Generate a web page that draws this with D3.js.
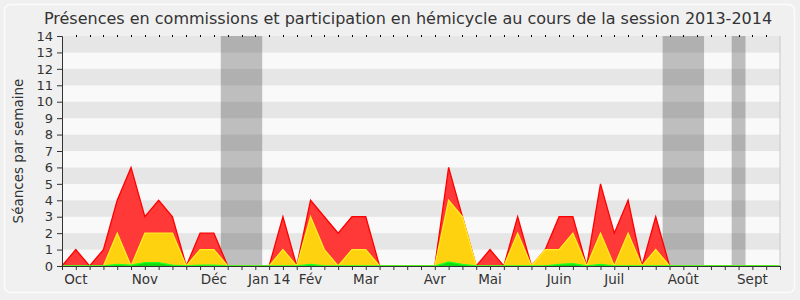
<!DOCTYPE html>
<html>
<head>
<meta charset="utf-8">
<script src="https://cdn.jsdelivr.net/npm/d3@7"></script>
<style>
  body { margin: 0; background: #f0f0f0; }
  text { font-family: "DejaVu Sans", sans-serif; fill: #333; }
</style>
</head>
<body>
<div id="chart"></div>
<script>
// weekly values, week 0 = start of October 2013
var total    = [0,1,0,1,4,6,3,4,3,0,2,2,0,0,0,0,3,0,4,3,2,3,3,0,0,0,0,0,6,3,0,1,0,3,0,1,3,3,0,5,2,4,0,3,0,0,0,0,0,0,0,0,0];
var hemicycle= [0,0,0,0,2,0,2,2,2,0,1,1,0,0,0,0,1,0,3,1,0,1,1,0,0,0,0,0,4,3,0,0,0,2,0,1,1,2,0,2,0,2,0,1,0,0,0,0,0,0,0,0,0];
var green    = [0,0,0,0,0.1,0.05,0.2,0.2,0.05,0,0.05,0.05,0,0,0,0,0,0,0.1,0,0,0,0,0,0,0,0,0,0.25,0.1,0,0,0,0,0,0,0.1,0.15,0,0.1,0,0,0,0,0,0,0,0,0,0,0,0,0];
var monthLabels = ['Oct','Nov','Déc','Jan 14','Fév','Mar','Avr','Mai','Juin','Juil','Août','Sept'];
var monthWeeks  = [1,6,11,15,18,22,27,31,36,40,45,50];
var vacStart = [12,44,49];
var vacEnd   = [14,46,49];
var yTicks = d3.range(0,15);

var width = 800, height = 300;
var margin = {top: 36, right: 20, bottom: 34, left: 62};

var svg = d3.select('#chart').append('svg')
  .attr('width', width).attr('height', height);

svg.append('rect')
  .attr('x', 4.5).attr('y', 4.5).attr('width', 790).attr('height', 288)
  .attr('rx', 6).attr('fill', '#f0f0f0').attr('stroke', '#fcfcfc').attr('stroke-width', 1.5);

var x = d3.scaleLinear().domain([0, 52]).range([margin.left, width - margin.right]);
var y = d3.scaleLinear().domain([0, 14]).range([height - margin.bottom, margin.top]);

// stripes
svg.selectAll('rect.stripe')
  .data(d3.range(0,14))
  .enter().append('rect')
  .attr('class','stripe')
  .attr('x', x(0)).attr('width', x(52) - x(0))
  .attr('y', function(d){ return y(d+1); })
  .attr('height', function(d){ return y(d) - y(d+1); })
  .attr('fill', function(d){ return d % 2 ? '#e6e6e6' : '#f9f9f9'; });

// vacation bands
svg.selectAll('rect.vac')
  .data(vacStart)
  .enter().append('rect')
  .attr('class','vac')
  .attr('x', function(d){ return x(d - 0.5); })
  .attr('width', function(d,i){ return x(vacEnd[i] + 0.5) - x(d - 0.5); })
  .attr('y', y(14)).attr('height', y(0) - y(14))
  .attr('fill', 'rgba(0,0,0,0.235)');

function drawArea(vals, fill, stroke) {
  var area = d3.area()
    .x(function(d,i){ return x(i); })
    .y0(y(0))
    .y1(function(d){ return y(d); });
  var line = d3.line()
    .x(function(d,i){ return x(i); })
    .y(function(d){ return y(d); });
  svg.append('path').datum(vals).attr('d', area).attr('fill', fill);
  svg.append('path').datum(vals).attr('d', line).attr('fill', 'none')
    .attr('stroke', stroke).attr('stroke-width', 1.3);
}
drawArea(total, '#ff3838', '#ff0000');
drawArea(hemicycle, '#ffd20f', '#ffee22');
drawArea(green, '#11dd11', '#22ff22');

// right border
svg.append('line')
  .attr('x1', x(52)).attr('x2', x(52)).attr('y1', y(14)).attr('y2', y(0))
  .attr('stroke', '#c8c8c8');

// top dots
svg.selectAll('line.topdot')
  .data(d3.range(1,52))
  .enter().append('line')
  .attr('class','topdot')
  .attr('x1', function(d){ return Math.round(x(d)) + 0.5; })
  .attr('x2', function(d){ return Math.round(x(d)) + 0.5; })
  .attr('y1', y(14) - 1).attr('y2', y(14) + 1)
  .attr('stroke', '#000');

// x axis
var xAxis = svg.append('g')
  .attr('transform', 'translate(0,' + y(0) + ')')
  .call(d3.axisBottom(x).tickValues(d3.range(0,53)).tickSize(4).tickFormat(''));
xAxis.select('.domain').attr('stroke', '#333');
xAxis.selectAll('.tick line').attr('stroke', '#333');

svg.selectAll('text.month')
  .data(monthLabels)
  .enter().append('text')
  .attr('class','month')
  .attr('x', function(d,i){ return x(monthWeeks[i]); })
  .attr('y', y(0) + 18)
  .attr('text-anchor','middle')
  .attr('font-size', 13.5)
  .text(function(d){ return d; });

// y axis
var yAxis = svg.append('g')
  .attr('transform', 'translate(' + x(0) + ',0)')
  .call(d3.axisLeft(y).tickValues(yTicks).tickSize(5).tickPadding(4).tickFormat(d3.format('d')));
yAxis.select('.domain').attr('stroke', '#333');
yAxis.selectAll('.tick line').attr('stroke', '#333');
yAxis.selectAll('.tick text').attr('font-size', 13).attr('font-family', '"DejaVu Sans", sans-serif').attr('fill', '#333');

svg.append('text')
  .attr('transform', 'translate(23,' + (y(7)) + ') rotate(-90)')
  .attr('text-anchor','middle')
  .attr('font-size', 13.5)
  .text('Séances par semaine');

svg.append('text')
  .attr('x', 408).attr('y', 24)
  .attr('text-anchor','middle')
  .attr('font-size', 16)
  .text('Présences en commissions et participation en hémicycle au cours de la session 2013-2014');
</script>
</body>
</html>
